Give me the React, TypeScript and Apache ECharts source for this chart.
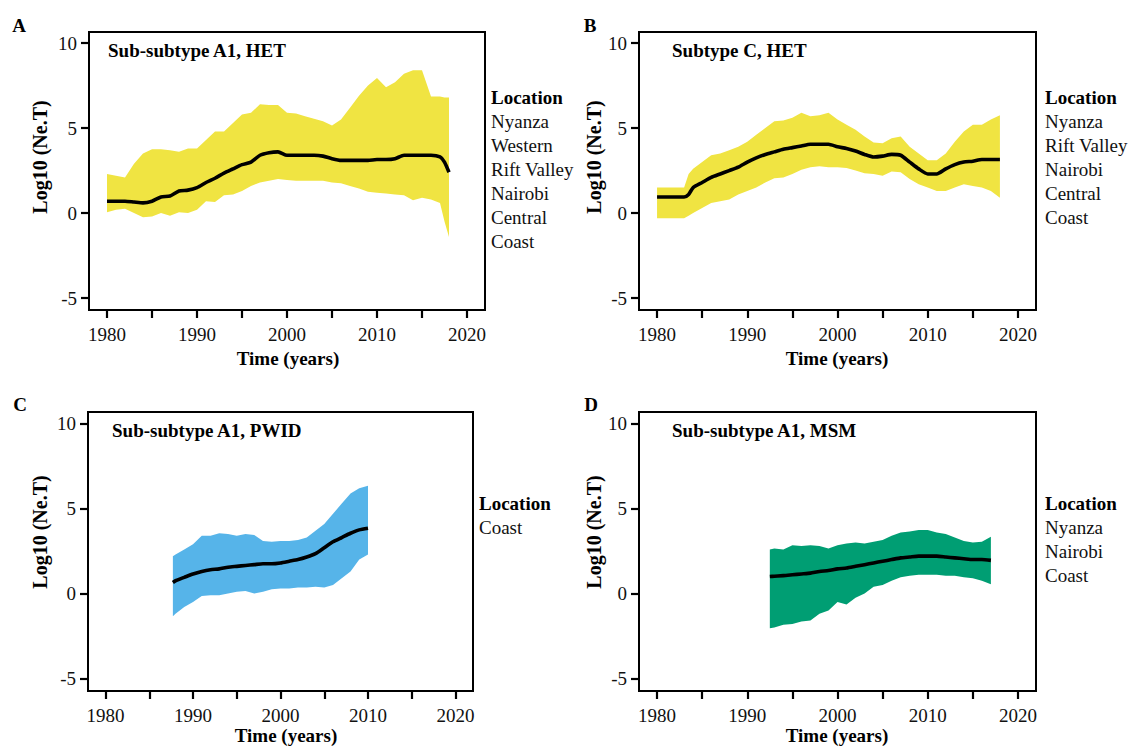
import { useEffect, useRef } from "react";
import * as echarts from "echarts";

// ---------- data ----------
const xTickValues = [1980, 1985, 1990, 1995, 2000, 2005, 2010, 2015, 2020];
const xLabelValues = [1980, 1990, 2000, 2010, 2020];
const yTickValues = [-5, 0, 5, 10];

// Panel A: Sub-subtype A1, HET
const aYears = [1980, 1981, 1982, 1983, 1984, 1985, 1986, 1987, 1988, 1989, 1990, 1991, 1992, 1993, 1994, 1995, 1996, 1997, 1998, 1999, 2000, 2001, 2002, 2003, 2004, 2005, 2006, 2007, 2008, 2009, 2010, 2011, 2012, 2013, 2014, 2015, 2016, 2017, 2017.5, 2018];
const aUpper = [2.3, 2.2, 2.1, 2.9, 3.5, 3.75, 3.75, 3.7, 3.6, 3.8, 3.8, 4.3, 4.8, 4.8, 5.3, 5.8, 5.9, 6.4, 6.35, 6.35, 5.9, 5.85, 5.7, 5.55, 5.4, 5.15, 5.5, 6.2, 6.9, 7.5, 7.95, 7.4, 7.7, 8.2, 8.4, 8.4, 6.85, 6.85, 6.8, 6.8];
const aLower = [0.05, 0.2, 0.25, 0.0, -0.25, -0.2, 0.0, -0.15, 0.05, 0.0, 0.2, 0.7, 0.65, 1.05, 1.1, 1.3, 1.6, 1.8, 1.9, 2.0, 1.95, 1.9, 1.9, 1.9, 1.9, 1.8, 1.75, 1.6, 1.45, 1.25, 1.2, 1.15, 1.1, 1.05, 0.75, 0.9, 0.8, 0.6, -0.5, -1.4];
const aMedian = [0.7, 0.7, 0.7, 0.65, 0.6, 0.7, 0.95, 1.0, 1.3, 1.35, 1.5, 1.8, 2.05, 2.35, 2.6, 2.85, 3.0, 3.4, 3.55, 3.6, 3.4, 3.4, 3.4, 3.4, 3.35, 3.2, 3.1, 3.1, 3.1, 3.1, 3.15, 3.15, 3.2, 3.4, 3.4, 3.4, 3.4, 3.3, 3.0, 2.4];

// Panel B: Subtype C, HET
const bYears = [1980, 1981, 1982, 1983, 1983.5, 1984, 1985, 1986, 1987, 1988, 1989, 1990, 1991, 1992, 1993, 1994, 1995, 1996, 1997, 1998, 1999, 2000, 2001, 2002, 2003, 2004, 2005, 2006, 2007, 2008, 2009, 2010, 2011, 2012, 2013, 2014, 2015, 2016, 2017, 2018];
const bUpper = [1.5, 1.5, 1.5, 1.5, 2.3, 2.6, 3.0, 3.4, 3.5, 3.7, 3.9, 4.2, 4.6, 5.0, 5.4, 5.45, 5.6, 5.9, 5.7, 5.75, 5.9, 5.5, 5.2, 4.9, 4.5, 4.15, 4.1, 4.4, 4.5, 3.9, 3.5, 3.1, 3.1, 3.5, 4.2, 4.8, 5.2, 5.2, 5.5, 5.75];
const bLower = [-0.3, -0.3, -0.3, -0.3, -0.15, 0.0, 0.3, 0.6, 0.7, 0.8, 1.1, 1.3, 1.5, 1.8, 2.05, 2.1, 2.3, 2.55, 2.7, 2.75, 2.7, 2.7, 2.65, 2.5, 2.35, 2.3, 2.2, 2.45, 2.4, 2.0, 1.7, 1.5, 1.3, 1.3, 1.5, 1.7, 1.6, 1.5, 1.3, 0.9];
const bMedian = [0.95, 0.95, 0.95, 0.95, 1.1, 1.5, 1.8, 2.1, 2.3, 2.5, 2.7, 3.0, 3.25, 3.45, 3.6, 3.75, 3.85, 3.95, 4.05, 4.05, 4.05, 3.9, 3.8, 3.65, 3.45, 3.3, 3.35, 3.45, 3.4, 3.0, 2.6, 2.3, 2.3, 2.6, 2.85, 3.0, 3.05, 3.15, 3.15, 3.15];

// Panel C: Sub-subtype A1, PWID
const cYears = [1987.7, 1988, 1989, 1990, 1991, 1992, 1993, 1994, 1995, 1996, 1997, 1998, 1999, 2000, 2001, 2002, 2003, 2004, 2005, 2006, 2007, 2008, 2009, 2010];
const cUpper = [2.2, 2.3, 2.6, 2.9, 3.4, 3.4, 3.55, 3.5, 3.4, 3.5, 3.45, 3.1, 3.05, 3.1, 3.1, 3.15, 3.3, 3.7, 4.1, 4.7, 5.3, 5.9, 6.2, 6.35];
const cLower = [-1.35, -1.2, -0.8, -0.5, -0.15, -0.1, -0.1, 0.0, 0.1, 0.15, 0.0, 0.1, 0.25, 0.3, 0.3, 0.35, 0.35, 0.4, 0.35, 0.5, 0.9, 1.3, 2.0, 2.3];
const cMedian = [0.65, 0.75, 0.95, 1.15, 1.3, 1.4, 1.45, 1.55, 1.6, 1.65, 1.7, 1.75, 1.75, 1.8, 1.9, 2.0, 2.15, 2.35, 2.7, 3.05, 3.3, 3.55, 3.75, 3.85];

// Panel D: Sub-subtype A1, MSM
const dYears = [1992.5, 1993, 1994, 1995, 1996, 1997, 1998, 1999, 2000, 2001, 2002, 2003, 2004, 2005, 2006, 2007, 2008, 2009, 2010, 2011, 2012, 2013, 2014, 2015, 2016, 2017];
const dUpper = [2.6, 2.65, 2.6, 2.85, 2.8, 2.85, 2.8, 2.65, 2.85, 2.95, 3.0, 2.95, 3.05, 3.15, 3.4, 3.6, 3.65, 3.75, 3.75, 3.6, 3.5, 3.3, 3.1, 3.0, 3.05, 3.35];
const dLower = [-2.05, -2.0, -1.85, -1.8, -1.65, -1.6, -1.2, -1.0, -0.5, -0.65, -0.25, 0.0, 0.4, 0.5, 0.75, 0.95, 1.05, 1.1, 1.1, 1.1, 1.05, 1.05, 0.95, 0.9, 0.75, 0.55];
const dMedian = [1.0, 1.02, 1.05, 1.1, 1.15, 1.2, 1.3, 1.35, 1.45, 1.5, 1.6, 1.7, 1.8, 1.9, 2.0, 2.1, 2.15, 2.2, 2.2, 2.2, 2.15, 2.1, 2.05, 2.0, 2.0, 1.95];

const panelLetters = ["A", "B", "C", "D"];
const panelTitles = ["Sub-subtype A1, HET", "Subtype C, HET", "Sub-subtype A1, PWID", "Sub-subtype A1, MSM"];
const legendTitle = "Location";
const legendA = ["Nyanza", "Western", "Rift Valley", "Nairobi", "Central", "Coast"];
const legendB = ["Nyanza", "Rift Valley", "Nairobi", "Central", "Coast"];
const legendC = ["Coast"];
const legendD = ["Nyanza", "Nairobi", "Coast"];
const xTitle = "Time (years)";
const yTitle = "Log10 (Ne.T)";

// ---------- layout ----------
const FONT = "'Liberation Serif', 'Times New Roman', serif";
const grids = [
  { left: 89, top: 32, width: 396, height: 278 },
  { left: 639, top: 32, width: 397, height: 278 },
  { left: 88, top: 412, width: 385, height: 279 },
  { left: 639, top: 412, width: 397, height: 279 },
];
const yRanges = [
  [-5.7, 10.65],
  [-5.7, 10.65],
  [-5.75, 10.7],
  [-5.75, 10.7],
];
const bandColors = ["#F0E442", "#F0E442", "#56B4E9", "#009E73"];

const panelData = [
  { years: aYears, lo: aLower, hi: aUpper, med: aMedian, legend: legendA },
  { years: bYears, lo: bLower, hi: bUpper, med: bMedian, legend: legendB },
  { years: cYears, lo: cLower, hi: cUpper, med: cMedian, legend: legendC },
  { years: dYears, lo: dLower, hi: dUpper, med: dMedian, legend: legendD },
];

const letterPos = [
  [19, 25],
  [590, 25],
  [20, 404],
  [591, 404],
];
const titlePos = [
  [108, 50],
  [672, 50],
  [112, 430],
  [672, 430],
];
const legendPos = [
  [491, 97],
  [1045, 97],
  [479, 503],
  [1045, 503],
];
const xTitlePos = [
  [288, 358],
  [837, 358],
  [286, 735],
  [837, 735],
];
const yTitlePos = [
  [40, 157],
  [594, 157],
  [40, 532],
  [594, 532],
];

function buildOption() {
  const series: any[] = [];
  const xAxis: any[] = [];
  const yAxis: any[] = [];
  const graphic: any[] = [];

  panelData.forEach((p, i) => {
    xAxis.push({
      gridIndex: i,
      type: "value",
      min: 1978,
      max: 2022,
      axisLine: { show: false, onZero: false },
      splitLine: { show: false },
      axisTick: {
        show: true,
        customValues: xTickValues,
        length: 8,
        lineStyle: { color: "#000", width: 2.2 },
      },
      axisLabel: {
        customValues: xLabelValues,
        formatter: (v: number) => String(v),
        fontFamily: "Liberation Serif",
        fontSize: 19,
        color: "#111",
        margin: 15,
      },
    });
    yAxis.push({
      gridIndex: i,
      type: "value",
      min: yRanges[i][0],
      max: yRanges[i][1],
      axisLine: { show: false, onZero: false },
      splitLine: { show: false },
      axisTick: {
        show: true,
        customValues: yTickValues,
        length: 8,
        lineStyle: { color: "#000", width: 2.2 },
      },
      axisLabel: {
        customValues: yTickValues,
        formatter: (v: number) => String(v),
        fontFamily: "Liberation Serif",
        fontSize: 19,
        color: "#111",
        margin: 12,
      },
    });

    const bandRows = p.years.map((y, k) => [y, p.lo[k], p.hi[k]]);
    series.push({
      type: "custom",
      xAxisIndex: i,
      yAxisIndex: i,
      silent: true,
      z: 1,
      encode: { x: 0, y: [1, 2] },
      data: bandRows,
      renderItem: (params: any, api: any) => {
        if (params.dataIndex !== 0) return null;
        const pts: number[][] = [];
        for (let k = 0; k < p.years.length; k++) pts.push(api.coord([p.years[k], p.hi[k]]));
        for (let k = p.years.length - 1; k >= 0; k--) pts.push(api.coord([p.years[k], p.lo[k]]));
        return {
          type: "polygon",
          shape: { points: pts },
          style: { fill: bandColors[i], stroke: null },
        };
      },
    });
    series.push({
      type: "line",
      xAxisIndex: i,
      yAxisIndex: i,
      z: 3,
      showSymbol: false,
      silent: true,
      smooth: 0.2,
      lineStyle: { color: "#000", width: 3.6 },
      data: p.years.map((y, k) => [y, p.med[k]]),
    });

    // texts
    graphic.push({
      type: "text",
      x: letterPos[i][0],
      y: letterPos[i][1],
      style: {
        text: panelLetters[i],
        font: `bold 19px ${FONT}`,
        fill: "#000",
        textAlign: "center",
        textVerticalAlign: "middle",
      },
    });
    graphic.push({
      type: "text",
      x: titlePos[i][0],
      y: titlePos[i][1],
      style: {
        text: panelTitles[i],
        font: `bold 19px ${FONT}`,
        fill: "#000",
        textAlign: "left",
        textVerticalAlign: "middle",
      },
    });
    graphic.push({
      type: "text",
      x: legendPos[i][0],
      y: legendPos[i][1],
      style: {
        text: legendTitle,
        font: `bold 19px ${FONT}`,
        fill: "#000",
        textAlign: "left",
        textVerticalAlign: "middle",
      },
    });
    p.legend.forEach((name, k) => {
      graphic.push({
        type: "text",
        x: legendPos[i][0],
        y: legendPos[i][1] + 24 * (k + 1),
        style: {
          text: name,
          font: `19px ${FONT}`,
          fill: "#111",
          textAlign: "left",
          textVerticalAlign: "middle",
        },
      });
    });
    graphic.push({
      type: "text",
      x: xTitlePos[i][0],
      y: xTitlePos[i][1],
      style: {
        text: xTitle,
        font: `bold 19px ${FONT}`,
        fill: "#000",
        textAlign: "center",
        textVerticalAlign: "middle",
      },
    });
    graphic.push({
      type: "text",
      x: yTitlePos[i][0],
      y: yTitlePos[i][1],
      rotation: Math.PI / 2,
      style: {
        text: yTitle,
        font: `bold 20px ${FONT}`,
        fill: "#000",
        textAlign: "center",
        textVerticalAlign: "middle",
      },
    });
  });

  return {
    animation: false,
    backgroundColor: "#fff",
    grid: grids.map((g) => ({
      ...g,
      show: true,
      borderColor: "#000",
      borderWidth: 2,
      backgroundColor: "transparent",
      containLabel: false,
    })),
    xAxis,
    yAxis,
    series,
    graphic,
  };
}

export default function App() {
  const ref = useRef<HTMLDivElement>(null);
  useEffect(() => {
    if (!ref.current) return;
    const chart = echarts.init(ref.current, null, { renderer: "svg" });
    chart.setOption(buildOption() as any);
    return () => chart.dispose();
  }, []);
  return (
    <div
      ref={ref}
      style={{ position: "fixed", left: 0, top: 0, width: 1132, height: 746, background: "#fff" }}
    />
  );
}
